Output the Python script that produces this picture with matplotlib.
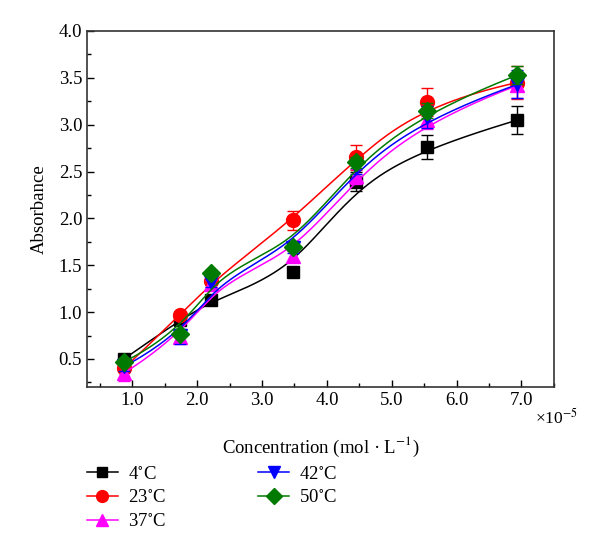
import numpy as np
import matplotlib
matplotlib.use("Agg")
import matplotlib.pyplot as plt
from matplotlib.ticker import MultipleLocator, FormatStrFormatter

plt.rcParams["font.family"] = ["Liberation Serif", "DejaVu Serif"]
plt.rcParams["mathtext.fontset"] = "stix"

# concentration in units of 1e-5 mol/L
conc = [0.87, 1.74, 2.22, 3.47, 4.45, 5.55, 6.94]

labels = ["4$^{\\circ}$C", "23$^{\\circ}$C", "37$^{\\circ}$C", "42$^{\\circ}$C", "50$^{\\circ}$C"]
abs_4 = [0.50, 0.92, 1.13, 1.43, 2.39, 2.76, 3.05]
abs_23 = [0.40, 0.97, 1.33, 1.98, 2.65, 3.24, 3.45]
abs_37 = [0.35, 0.73, 1.30, 1.60, 2.45, 3.05, 3.42]
abs_42 = [0.42, 0.74, 1.32, 1.68, 2.55, 3.08, 3.43]
abs_50 = [0.47, 0.77, 1.42, 1.69, 2.60, 3.15, 3.53]

err_4 = [0.03, 0.03, 0.03, 0.04, 0.10, 0.13, 0.15]
err_23 = [0.03, 0.03, 0.03, 0.10, 0.13, 0.15, 0.18]
err_37 = [0.08, 0.05, 0.04, 0.05, 0.08, 0.10, 0.13]
err_42 = [0.05, 0.08, 0.05, 0.05, 0.08, 0.12, 0.15]
err_50 = [0.03, 0.03, 0.03, 0.03, 0.06, 0.08, 0.10]

series = [abs_4, abs_23, abs_37, abs_42, abs_50]
errors = [err_4, err_23, err_37, err_42, err_50]
colors = ["black", "#ff0000", "#ff00ff", "#0000ff", "#007a00"]
markers = ["s", "o", "^", "v", "D"]
msizes = [9, 10, 10, 10, 9]


def bspline(px, py, k=3, n=200):
    # clamped B-spline curve using data points as control points
    P = np.column_stack([px, py])
    m = len(P)
    knots = np.concatenate([np.zeros(k), np.linspace(0, 1, m - k + 1), np.ones(k)])
    t = np.linspace(0, 1 - 1e-9, n)
    out = []
    for tt in t:
        j = np.searchsorted(knots, tt, side="right") - 1
        d = [P[j - k + i].copy() for i in range(k + 1)]
        for r in range(1, k + 1):
            for i in range(k, r - 1, -1):
                idx = i + j - k
                a = (tt - knots[idx]) / (knots[idx + k + 1 - r] - knots[idx])
                d[i] = (1 - a) * d[i - 1] + a * d[i]
        out.append(d[k])
    out.append(P[-1])
    out = np.array(out)
    return out[:, 0], out[:, 1]


fig = plt.figure(figsize=(6, 5.53), dpi=100)
ax = fig.add_axes([0.145, 0.300, 0.778, 0.644])

handles = []
for y, e, c, mk, ms, lab in zip(series, errors, colors, markers, msizes, labels):
    sx, sy = bspline(conc, y)
    ax.plot(sx, sy, color=c, lw=1.1)
    ax.errorbar(conc, y, yerr=e, fmt="none", ecolor=c, elinewidth=1.0, capsize=4, capthick=1.0)
    ax.plot(conc, y, ls="none", marker=mk, color=c, ms=ms)
    h, = ax.plot([], [], color=c, marker=mk, ms=ms * 0.85, lw=1.1)
    handles.append(h)

ax.set_xlim(0.3, 7.5)
ax.set_ylim(0.2, 4.0)
ax.xaxis.set_major_locator(MultipleLocator(1.0))
ax.xaxis.set_minor_locator(MultipleLocator(0.5))
ax.yaxis.set_major_locator(MultipleLocator(0.5))
ax.yaxis.set_minor_locator(MultipleLocator(0.25))
ax.xaxis.set_major_formatter(FormatStrFormatter("%.1f"))
ax.yaxis.set_major_formatter(FormatStrFormatter("%.1f"))
ax.tick_params(which="both", direction="in", top=False, right=False, labelsize=13.5)
ax.tick_params(which="major", length=5, width=1)
ax.tick_params(which="minor", length=3, width=1)
for sp in ax.spines.values():
    sp.set_linewidth(1.2)
    sp.set_color("#333333")

ax.set_ylabel("Absorbance", fontsize=13.5, labelpad=8)
fig.text(0.892, 0.244, "×10$^{-5}$", fontsize=12.5, ha="left", va="center")
fig.text(0.535, 0.192, "Concentration (mol · L$^{-1}$)", fontsize=13.5, ha="center", va="center")

fig.legend(handles, labels, loc="upper left", bbox_to_anchor=(0.145, 0.158), ncol=2,
           frameon=False, fontsize=13.5, handlelength=1.65, columnspacing=4.9,
           labelspacing=0.35, handletextpad=0.55, borderaxespad=0, borderpad=0)

fig.savefig("out.png", dpi=100)
